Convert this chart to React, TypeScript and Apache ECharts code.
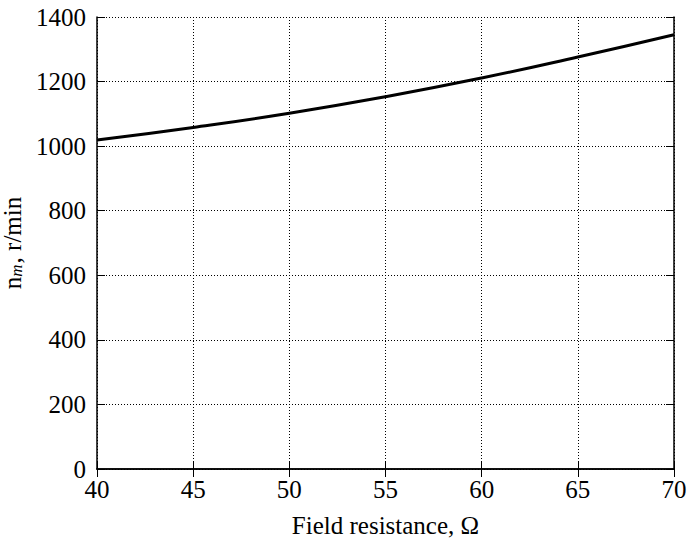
import React, { useEffect, useRef } from "react";
import * as echarts from "echarts";

const resistance = [40, 45, 50, 55, 60, 65, 70];
const speed = [1019, 1058, 1102, 1153, 1211, 1276, 1345];
const xTicks = [40, 45, 50, 55, 60, 65, 70];
const yTicks = [0, 200, 400, 600, 800, 1000, 1200, 1400];

const FONT = "Liberation Serif";

export default function App() {
  const ref = useRef<HTMLDivElement>(null);
  useEffect(() => {
    if (!ref.current) return;
    const chart = echarts.init(ref.current, undefined, { renderer: "svg" });
    const axisLine = { show: true, lineStyle: { color: "#000", width: 1.5 } };
    const split = { show: true, lineStyle: { color: "#000", type: [1, 2] as any, width: 1 } };
    const labelStyle = {
      show: true,
      fontFamily: FONT,
      fontSize: 25,
      color: "#000",
      formatter: (v: number) => String(v),
    };
    chart.setOption({
      animation: false,
      backgroundColor: "#fff",
      textStyle: { fontFamily: FONT, fontSize: 25, color: "#000" },
      grid: {
        left: 97,
        top: 17,
        right: 15,
        bottom: 70,
        containLabel: false,
        outerBoundsMode: "none",
      },
      xAxis: [
        {
          type: "value",
          min: xTicks[0],
          max: xTicks[xTicks.length - 1],
          interval: 5,
          name: "Field resistance, Ω",
          nameLocation: "middle",
          nameGap: 44,
          nameTextStyle: { fontFamily: FONT, fontSize: 25, color: "#000" },
          axisLine,
          axisTick: { show: true, inside: true, length: 8, lineStyle: { color: "#000" } },
          axisLabel: { ...labelStyle, margin: 8 },
          splitLine: split,
        },
        {
          type: "value",
          position: "top",
          min: xTicks[0],
          max: xTicks[xTicks.length - 1],
          interval: 5,
          axisLine,
          axisTick: { show: true, inside: true, length: 8, lineStyle: { color: "#000" } },
          axisLabel: { show: false },
          splitLine: { show: false },
        },
      ],
      yAxis: [
        {
          type: "value",
          min: yTicks[0],
          max: yTicks[yTicks.length - 1],
          interval: 200,
          name: "{n|n}{m|m}{n|, r/min}",
          nameLocation: "middle",
          nameGap: 54,
          nameTextStyle: {
            rich: {
              n: { fontFamily: FONT, fontSize: 25, color: "#000" },
              m: { fontFamily: FONT, fontSize: 17, fontStyle: "italic", color: "#000", padding: [9, 1, 0, 0] },
            },
          },
          axisLine,
          axisTick: { show: true, inside: true, length: 8, lineStyle: { color: "#000" } },
          axisLabel: { ...labelStyle, margin: 11 },
          splitLine: split,
        },
        {
          type: "value",
          position: "right",
          min: yTicks[0],
          max: yTicks[yTicks.length - 1],
          interval: 200,
          axisLine,
          axisTick: { show: true, inside: true, length: 8, lineStyle: { color: "#000" } },
          axisLabel: { show: false },
          splitLine: { show: false },
        },
      ],
      series: [
        {
          type: "line",
          data: resistance.map((r, i) => [r, speed[i]]),
          smooth: true,
          showSymbol: false,
          lineStyle: { color: "#000", width: 3 },
        },
      ],
    });
    return () => chart.dispose();
  }, []);
  return <div ref={ref} style={{ width: 689, height: 539, position: "absolute", left: 0, top: 0 }} />;
}
